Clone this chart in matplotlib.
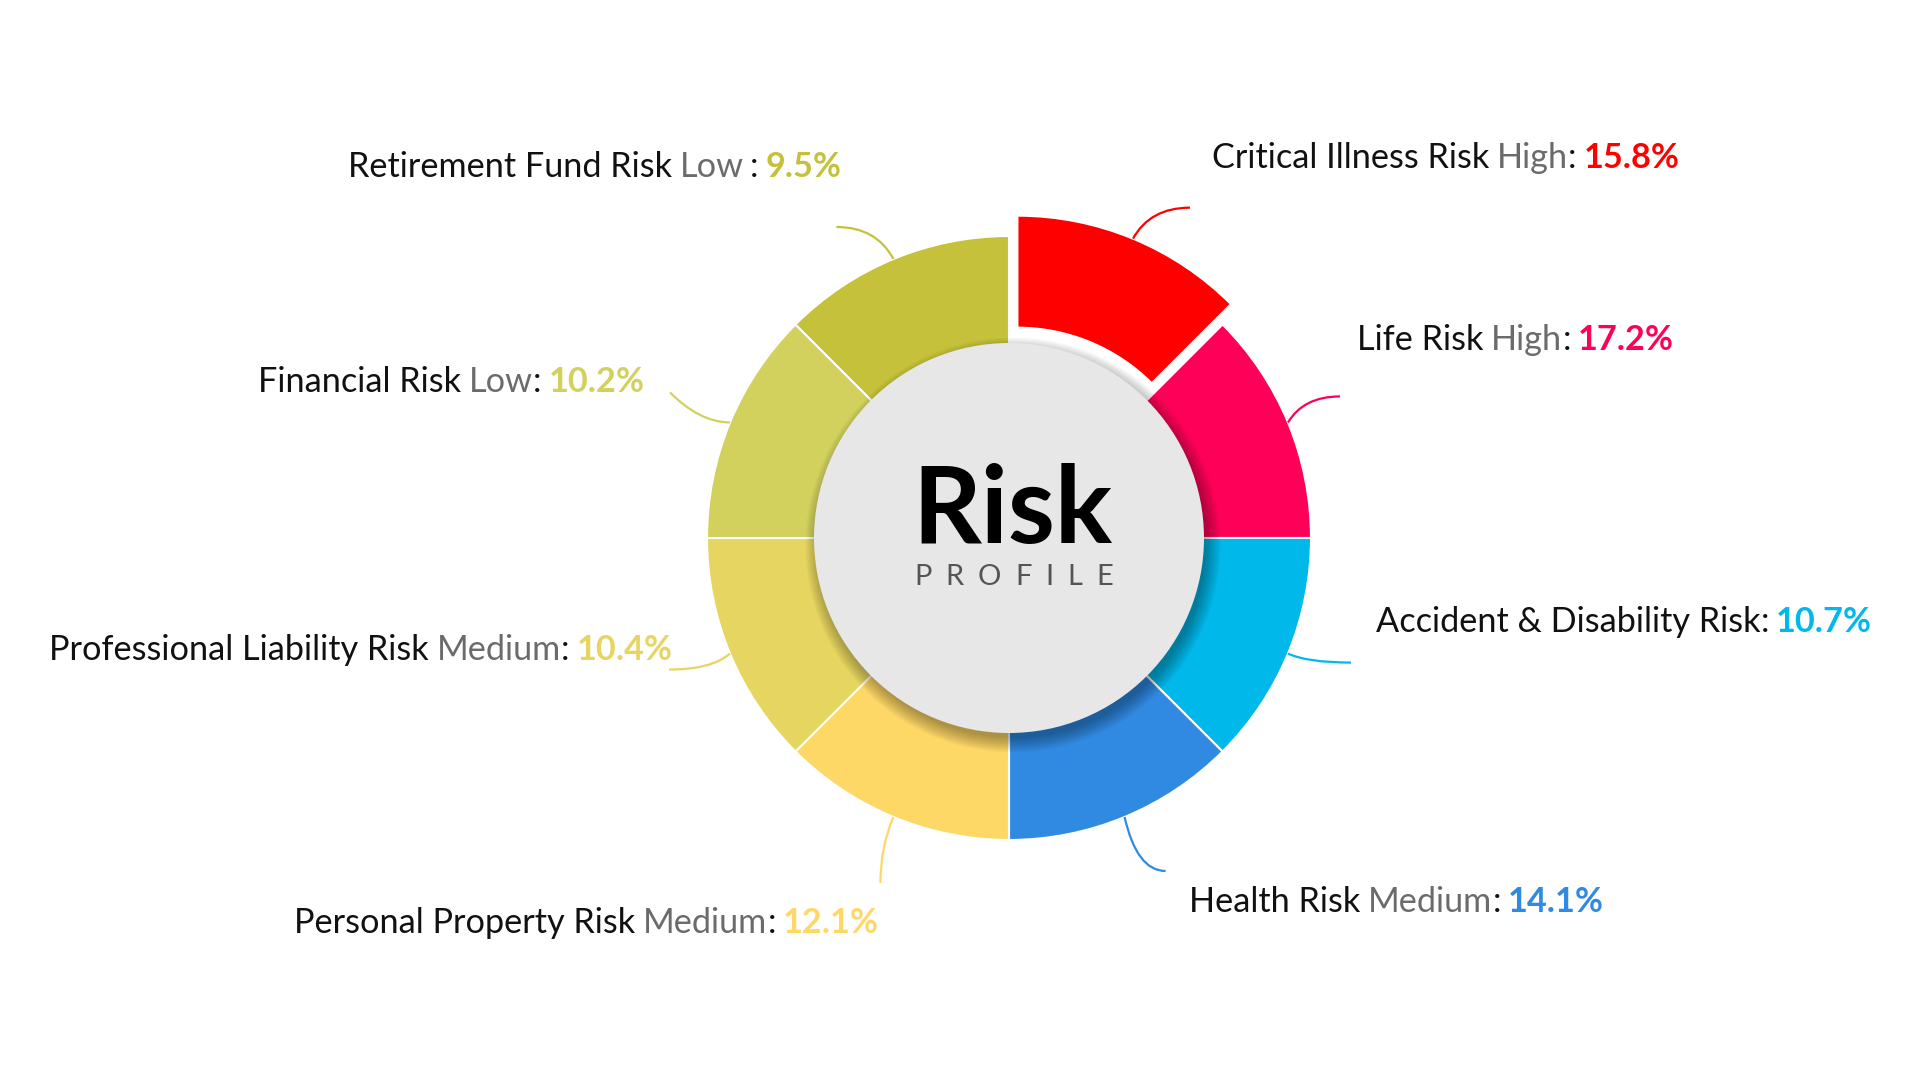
import matplotlib
matplotlib.use("Agg")
import matplotlib.pyplot as plt
from matplotlib.patches import Circle, PathPatch
from matplotlib.path import Path
import numpy as np

# DATA
names = ["Critical Illness Risk", "Life Risk", "Accident & Disability Risk", "Health Risk",
         "Personal Property Risk", "Professional Liability Risk", "Financial Risk",
         "Retirement Fund Risk"]
levels = ["High", "High", "", "Medium", "Medium", "Medium", "Low", "Low"]
shares = [15.8, 17.2, 10.7, 14.1, 12.1, 10.4, 10.2, 9.5]
# every category gets the same arc in the ring
segments = [1, 1, 1, 1, 1, 1, 1, 1]
colors = ["#FE0000", "#FF0058", "#00B8E9", "#318AE2",
          "#FED867", "#E7D561", "#D2D15E", "#C5C13A"]

# LAYOUT (pixels, y measured from top)
W, H = 1920, 1080
CX, CY = 1009, 1080 - 538
R_OUT, R_IN = 302, 190
label_pos = [(1212, 168), (1357, 350), (1376, 632), (1189, 912),
             (294, 933), (49, 660), (258, 392), (348, 177)]
leader_off = [(57, 31), (52, 26), (63, -9), (41, -54),
              (-13, -66), (-61, -16), (-60, 30), (-57, 32)]
# h: ends flat, v: ends vertical, s: leaves flat then bends
leader_bend = ["h", "h", "h", "h", "v", "h", "s", "h"]
colon_gap = [0, 0, 0, 0, 0, 0, 0, 6]
FS = 24.7
FONT = "Lato"
GRAY = "#6B6B6B"
DARK = "#111111"

fig = plt.figure(figsize=(19.2, 10.8), dpi=100)
ax = fig.add_axes([0, 0, 1, 1])

wedges, _ = ax.pie(segments, colors=colors, startangle=90, counterclock=False,
                   radius=R_OUT, center=(CX, CY),
                   explode=[22, 0, 0, 0, 0, 0, 0, 0],
                   wedgeprops=dict(width=R_OUT - R_IN, edgecolor="white", linewidth=1.5))

ax.set_xlim(0, W)
ax.set_ylim(0, H)
ax.set_aspect("equal")
ax.axis("off")

# shadow of the centre disc
for i in range(10):
    ax.add_patch(Circle((CX + 4, CY - 7), 193 + i * 1.6, color="black",
                        alpha=0.035, lw=0, zorder=2))
ax.add_patch(Circle((CX, CY), 195, color="#E7E7E7", lw=0, zorder=3))

ax.text(CX + 3, 1080 - 543, "Risk", family=FONT, fontweight="bold", fontsize=77,
        color="black", ha="center", va="baseline", zorder=4)

# spaced PROFILE
prev = ax.text(914, 1080 - 585, "P", family=FONT, fontsize=21, color="#555555",
               va="baseline", ha="left", zorder=4)
for ch in "ROFILE":
    prev = ax.annotate(ch, xy=(1, 0), xycoords=prev, xytext=(14, 0),
                       textcoords="offset pixels", family=FONT, fontsize=21,
                       color="#555555", va="bottom", ha="left", zorder=4)

# leaders
for w, c, off, bend in zip(wedges, colors, leader_off, leader_bend):
    mid = np.deg2rad((w.theta1 + w.theta2) / 2)
    d = np.array([np.cos(mid), np.sin(mid)])
    p0 = np.array(w.center) + w.r * d
    p2 = p0 + np.array(off)
    if bend == "h":
        p1 = np.array([p0[0] + 0.3 * off[0], p2[1]])
    elif bend == "v":
        p1 = np.array([p2[0], p0[1] + 0.45 * off[1]])
    else:
        p1 = np.array([p0[0] + 0.5 * off[0], p0[1]])
    path = Path([p0, p1, p2], [Path.MOVETO, Path.CURVE3, Path.CURVE3])
    ax.add_patch(PathPatch(path, fc="none", ec=c, lw=1.6, zorder=1))

# labels
def chain(x, y, pieces):
    s, c, wt, _ = pieces[0]
    prev = ax.text(x, y, s, family=FONT, fontsize=FS, fontweight=wt, color=c,
                   va="baseline", ha="left")
    for s, c, wt, gap in pieces[1:]:
        prev = ax.annotate(s, xy=(1, 0), xycoords=prev, xytext=(gap, 0),
                           textcoords="offset pixels", family=FONT, fontsize=FS,
                           fontweight=wt, color=c, va="bottom", ha="left")

for name, lev, val, c, (x, y), cg in zip(names, levels, shares, colors, label_pos, colon_gap):
    pieces = [(name, DARK, "normal", 0)]
    if lev:
        pieces.append((lev, GRAY, "normal", 8))
        pieces.append((":", DARK, "normal", cg))
    else:
        pieces.append((":", DARK, "normal", 0))
    pieces.append((f"{val}%", c, "bold", 7))
    chain(x, H - y, pieces)

fig.savefig("out.png", dpi=100, facecolor="white")
